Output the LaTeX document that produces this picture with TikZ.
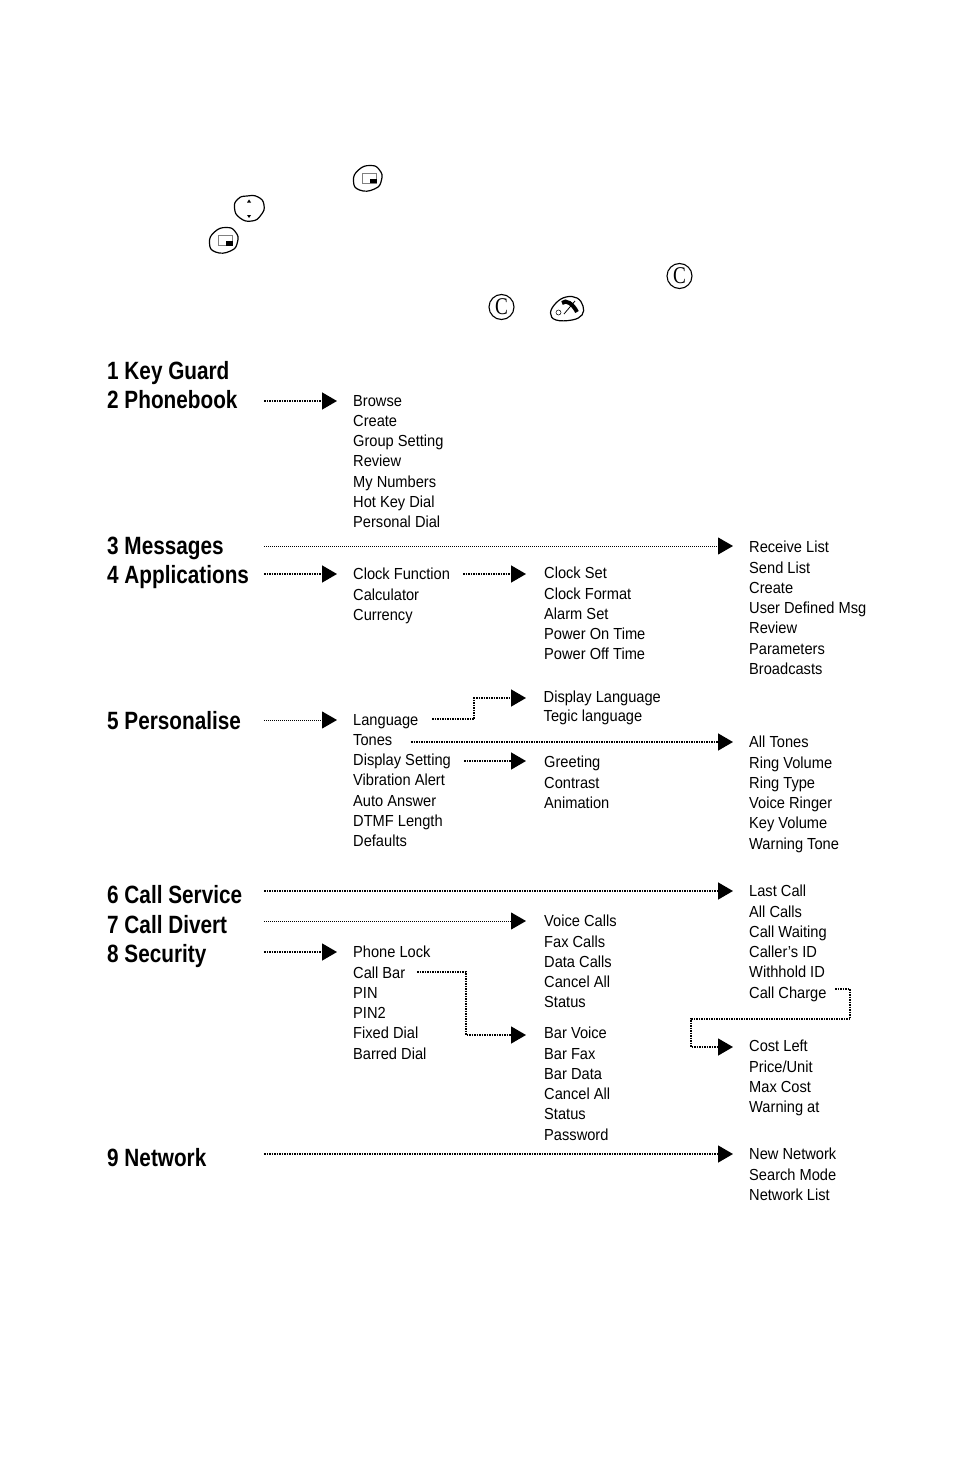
\documentclass[tikz,border=0pt]{standalone}
\usepackage{fontspec}
\setmainfont{Liberation Sans}
\newfontfamily\menufont[FakeStretch=0.915]{Liberation Sans}
\newfontfamily\headfont[FakeStretch=0.83]{Liberation Sans}
\newfontfamily\clearfont[FakeStretch=0.8]{Liberation Serif}
\usetikzlibrary{arrows.meta}

\begin{document}
\begin{tikzpicture}[
    x=1pt,y=-1pt,
    >={Triangle[length=15pt,width=17pt]},
    heading/.style={
      anchor=base west,
      inner sep=0pt,
      font=\headfont\bfseries\fontsize{25}{25}\selectfont
    },
    menu/.style={
      anchor=north west,
      align=left,
      inner sep=0pt,
      font=\menufont\fontsize{16}{20.25}\selectfont
    },
    link/.style={
      ->,
      line width=1.5pt,
      dash pattern=on 1.5pt off 1pt
    },
    thinlink/.style={
      ->,
      line width=1pt,
      dash pattern=on 1pt off 1pt
    },
    clearkey/.style={
      draw,
      circle,
      line width=1.1pt,
      minimum width=25pt,
      inner sep=0pt,
      font=\clearfont\fontsize{24}{24}\selectfont
    },
    keyblob/.style={
      line width=1.2pt
    },
    softkey/.pic={
      \draw[keyblob] plot[smooth cycle,tension=.9] coordinates
        {(-14,3) (-9,-8) (3,-12.5) (12,-8) (14,2) (7,11) (-8,12)};
      \draw[gray,line width=.9pt] (-5.5,-5) rectangle (8.5,5);
      \fill (2,1) rectangle (9,5.5);
    }
  ]
    \useasboundingbox (0,0) rectangle (954,1474);

    % keys above the menu
    \pic (menukeya) at (367.5,178) {softkey};
    \pic (menukeyb) at (223.5,240) {softkey};
    \draw[keyblob] plot[smooth cycle,tension=.9] coordinates
      {(234.5,208) (238,199) (247,196) (258,197) (264,205) (261,215) (252,221) (240,218)};
    \fill (249,199.5) -- (247,202.5) -- (251,202.5) -- cycle;
    \fill (249,218) -- (247,215) -- (251,215) -- cycle;
    \node[clearkey] (cleara) at (679.5,276) {C};
    \node[clearkey] (clearb) at (501.5,307) {C};
    \draw[keyblob] plot[smooth cycle,tension=.7] coordinates
      {(550.5,313) (556,303) (566,297) (577,298) (583,306) (582,315) (572,320) (556,320)};
    \draw[line width=4pt] (562,303) .. controls (566,299) and (573,304) .. (577,312);
    \draw[line width=.8pt] (564,314) -- (575,301);
    \node[draw,circle,line width=.5pt,minimum width=5pt,inner sep=0pt] (endo) at (558.5,312.5) {};

    % main menu
    \foreach \y/\l in {379/1 Key Guard,408/2 Phonebook,554/3 Messages,583/4 Applications,
        729/5 Personalise,903/6 Call Service,933/7 Call Divert,962/8 Security,1166/9 Network}
      \node[heading] (h\y) at (107,\y) {\l};

    % sub menus
    \node[menu] (phonebook) at (353,395) {Browse\\Create\\Group Setting\\Review\\My Numbers\\Hot Key Dial\\Personal Dial};
    \node[menu] (messages) at (749,541) {Receive List\\Send List\\Create\\User Defined Msg\\Review\\Parameters\\Broadcasts};
    \node[menu] (apps) at (353,568) {Clock Function\\Calculator\\Currency};
    \node[menu] (clock) at (544,567) {Clock Set\\Clock Format\\Alarm Set\\Power On Time\\Power Off Time};
    \node[menu] (language) at (543.5,691) {Display Language\\[-2pt]Tegic language};
    \node[menu] (personal) at (353,714) {Language\\Tones\\Display Setting\\Vibration Alert\\Auto Answer\\DTMF Length\\Defaults};
    \node[menu] (display) at (544,756) {Greeting\\Contrast\\Animation};
    \node[menu] (tones) at (749,736) {All Tones\\Ring Volume\\Ring Type\\Voice Ringer\\Key Volume\\Warning Tone};
    \node[menu] (service) at (749,885) {Last Call\\All Calls\\Call Waiting\\Caller’s ID\\Withhold ID\\Call Charge};
    \node[menu] (divert) at (544,915) {Voice Calls\\Fax Calls\\Data Calls\\Cancel All\\Status};
    \node[menu] (security) at (353,946) {Phone Lock\\Call Bar\\PIN\\PIN2\\Fixed Dial\\Barred Dial};
    \node[menu] (callbar) at (544,1027) {Bar Voice\\Bar Fax\\Bar Data\\Cancel All\\Status\\Password};
    \node[menu] (charge) at (749,1040) {Cost Left\\Price/Unit\\Max Cost\\Warning at};
    \node[menu] (network) at (749,1148) {New Network\\Search Mode\\Network List};

    % ends of the dotted connectors
    \foreach \n/\x/\y in {a/264/401,b/337/401,c/264/546,d/733/546,e/264/574,f/337/574,
        g/463/574,h/526/574,i/264/720,j/337/720,k/432/719,l/526/698,m/411/742,n/733/742,
        o/464/761,p/526/761,q/264/891,r/733/891,s/264/921,t/526/921,u/264/952,v/337/952,
        w/417/972,x/526/1035,y/835/989,z/733/1047,aa/264/1154,ab/733/1154}
      \coordinate (\n) at (\x,\y);

    \draw[link] (a) -- (b);
    \draw[thinlink] (c) -- (d);
    \draw[link] (e) -- (f);
    \draw[link] (g) -- (h);
    \draw[thinlink] (i) -- (j);
    \draw[link] (k) -- (474,719) -- (474,698) -- (l);
    \draw[link] (m) -- (n);
    \draw[link] (o) -- (p);
    \draw[link] (q) -- (r);
    \draw[thinlink] (s) -- (t);
    \draw[link] (u) -- (v);
    \draw[link] (w) -- (466,972) -- (466,1035) -- (x);
    \draw[link] (y) -- (850,989) -- (850,1019) -- (691,1019) -- (691,1047) -- (z);
    \draw[link] (aa) -- (ab);
  \end{tikzpicture}
\end{document}
